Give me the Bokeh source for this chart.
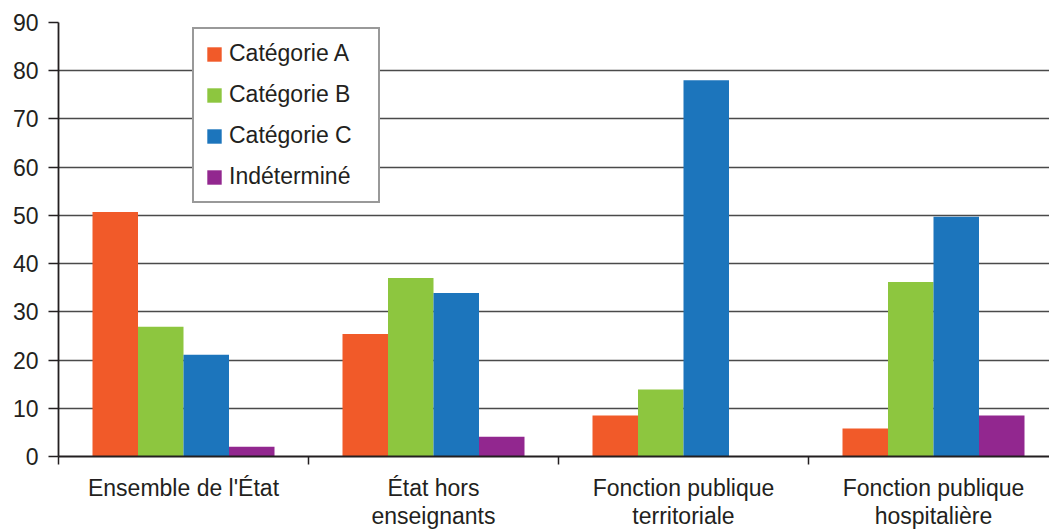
import numpy as np
from bokeh.plotting import figure
from bokeh.models import ColumnDataSource, Range1d, FixedTicker, Legend, LegendItem
from bokeh.transform import dodge
from bokeh.embed import file_html
from bokeh.resources import INLINE

categories = ["Ensemble de l'État", "État hors\nenseignants", "Fonction publique\nterritoriale", "Fonction publique\nhospitalière"]
series_names = ["Catégorie A", "Catégorie B", "Catégorie C", "Indéterminé"]
cat_a = [50.7, 25.4, 8.5, 5.8]
cat_b = [26.9, 37.0, 13.9, 36.2]
cat_c = [21.1, 33.9, 78.0, 49.7]
indet = [2.0, 4.1, 0.0, 8.5]
y_ticks = [0, 10, 20, 30, 40, 50, 60, 70, 80, 90]

colors = ["#F15A29", "#8DC63F", "#1C75BC", "#92278F"]
FONT = "Liberation Sans"
TXT = "#231F20"
FS = "23px"

pos = np.arange(len(categories)) + 0.5
src = ColumnDataSource(dict(x=pos, a=cat_a, b=cat_b, c=cat_c, d=indet))

p = figure(width=1049, height=532, output_backend="svg", toolbar_location=None,
           x_range=Range1d(0, 3.964), y_range=Range1d(0, 90),
           min_border_left=58, min_border_top=22, min_border_right=0, min_border_bottom=75)
p.outline_line_color = None
p.background_fill_color = "white"

bw = 0.182
offs = [-0.273, -0.091, 0.091, 0.273]
renderers = []
for key, off, col in zip(["a", "b", "c", "d"], offs, colors):
    r = p.vbar(x=dodge("x", off, range=p.x_range), top=key, width=bw, bottom=0,
               source=src, fill_color=col, line_color=None)
    renderers.append(r)

# grid
p.xgrid.visible = False
p.ygrid.ticker = FixedTicker(ticks=y_ticks)
p.ygrid.grid_line_color = "#4a4a4a"
p.ygrid.grid_line_width = 1.6

# y axis
ya = p.yaxis[0]
ya.ticker = FixedTicker(ticks=y_ticks)
ya.axis_line_color = "#231F20"
ya.axis_line_width = 1.8
ya.major_tick_line_color = "#231F20"
ya.major_tick_line_width = 1.5
ya.major_tick_out = 10
ya.major_tick_in = 0
ya.minor_tick_line_color = None
ya.major_label_standoff = 10
ya.major_label_text_font = FONT
ya.major_label_text_font_size = FS
ya.major_label_text_color = TXT

# x axis
xa = p.xaxis[0]
xa.ticker = FixedTicker(ticks=list(pos), minor_ticks=[0, 1, 2, 3, 4])
xa.major_label_overrides = {float(v): c for v, c in zip(pos, categories)}
xa.axis_line_color = "#231F20"
xa.axis_line_width = 1.8
xa.major_tick_line_color = None
xa.major_tick_out = 8
xa.major_tick_in = 0
xa.minor_tick_line_color = "#231F20"
xa.minor_tick_line_width = 1.5
xa.minor_tick_out = 8
xa.minor_tick_in = 0
xa.major_label_standoff = 10
xa.major_label_text_font = FONT
xa.major_label_text_font_size = FS
xa.major_label_text_color = TXT
xa.major_label_text_line_height = 1.1

legend = Legend(items=[LegendItem(label=n, renderers=[r]) for n, r in zip(series_names, renderers)],
                location=(134, 253))
legend.border_line_color = "#333333"
legend.border_line_width = 2
legend.background_fill_color = "white"
legend.background_fill_alpha = 1
legend.padding = 11
legend.spacing = 14
legend.glyph_width = 18
legend.glyph_height = 18
legend.label_height = 22
legend.label_width = 138
legend.label_standoff = 6
legend.label_text_font = FONT
legend.label_text_font_size = FS
legend.label_text_color = TXT
legend.label_text_baseline = "middle"
p.add_layout(legend, "center")

open("out.html", "w").write(file_html(p, INLINE))
